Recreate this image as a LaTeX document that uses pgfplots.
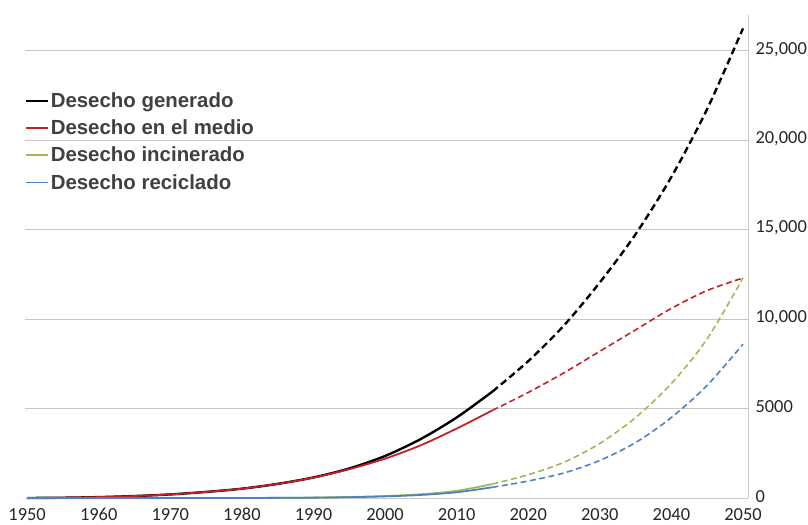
\documentclass[border=0pt]{standalone}
\usepackage{pgfplots}
\pgfplotsset{compat=1.18}
\usepackage{fontspec}
\setmainfont{Carlito}
\newfontfamily\legfont{Liberation Sans}
\definecolor{cRed}{RGB}{196,32,38}
\definecolor{cGreen}{RGB}{155,187,89}
\definecolor{cBlue}{RGB}{79,129,189}
\definecolor{cGrid}{RGB}{200,200,200}
\definecolor{cText}{RGB}{64,64,64}
\begin{document}
\begin{tikzpicture}
\path[use as bounding box] (0,0) rectangle (808bp,525bp);
\begin{axis}[
  at={(25bp,27bp)}, anchor=south west,
  scale only axis, width=723bp, height=483bp,
  xmin=1949.7, xmax=2050.7, ymin=0, ymax=27000,
  axis y line*=right, axis x line*=bottom,
  axis line style={cGrid, line width=1pt},
  x axis line style={-}, y axis line style={-},
  major tick length=0pt,
  scaled y ticks=false, scaled x ticks=false,
  xtick={1950,1960,...,2050},
  xticklabels={1950,1960,1970,1980,1990,2000,2010,2020,2030,2040,2050},
  ytick={0,5000,10000,15000,20000,25000},
  yticklabels={0,5000,{10,000},{15,000},{20,000},{25,000}},
  ymajorgrids, grid style={cGrid, line width=0.9pt},
  tick label style={font=\fontsize{18.5}{20}\selectfont, text=black!85},
  yticklabel style={anchor=west, xshift=4bp, yshift=1.5bp},
  xticklabel style={anchor=north, yshift=-10bp, text height=12.5bp, text depth=0bp, inner sep=0pt},
  legend style={at={(rel axis cs:0,0.842)}, anchor=north west, draw=none, fill=none,
    font=\legfont\bfseries\fontsize{20.5}{24}\selectfont, text=cText,
    inner sep=0pt, row sep=8.5bp, nodes={inner sep=1.2bp}},
  legend cell align=left,
  legend image code/.code={\draw[#1] (0bp,0bp) -- (22bp,0bp);},
  clip=false,
]
% historical (solid)
\addplot[black, line width=2.4pt, smooth] coordinates {
(1950,0)(1955,15)(1960,50)(1965,110)(1970,200)(1975,340)(1980,520)(1985,790)(1990,1150)(1995,1650)(2000,2350)(2005,3300)(2010,4500)(2015,5950)};
\addlegendentry{Desecho generado}
\addplot[cRed, line width=1.8pt, smooth] coordinates {
(1950,0)(1955,15)(1960,50)(1965,110)(1970,200)(1975,340)(1980,520)(1985,790)(1990,1140)(1995,1610)(2000,2200)(2005,2950)(2010,3880)(2015,4900)};
\addlegendentry{Desecho en el medio}
\addplot[cGreen, line width=1.8pt, smooth] coordinates {
(1950,0)(1960,0)(1970,0)(1980,2)(1985,10)(1990,25)(1995,55)(2000,110)(2005,210)(2010,400)(2015,780)};
\addlegendentry{Desecho incinerado}
\addplot[cBlue, line width=1.8pt, smooth] coordinates {
(1950,0)(1960,0)(1970,0)(1980,2)(1985,8)(1990,20)(1995,45)(2000,90)(2005,170)(2010,320)(2015,600)};
\addlegendentry{Desecho reciclado}
% projections (dashed)
\addplot[forget plot, black, line width=2.4pt, smooth, dash pattern=on 7bp off 4bp] coordinates {
(2015,5950)(2020,7650)(2025,9650)(2030,12050)(2035,14750)(2040,17950)(2045,21750)(2050,26250)};
\addplot[forget plot, cRed, line width=1.6pt, smooth, dash pattern=on 6bp off 3.5bp] coordinates {
(2015,4900)(2020,5900)(2025,7000)(2030,8200)(2035,9400)(2040,10600)(2045,11600)(2050,12300)};
\addplot[forget plot, cGreen, line width=1.6pt, smooth, dash pattern=on 6bp off 3.5bp] coordinates {
(2015,780)(2020,1300)(2025,2000)(2030,3050)(2035,4500)(2040,6400)(2045,8900)(2050,12300)};
\addplot[forget plot, cBlue, line width=1.6pt, smooth, dash pattern=on 6bp off 3.5bp] coordinates {
(2015,600)(2020,950)(2025,1400)(2030,2100)(2035,3100)(2040,4500)(2045,6300)(2050,8600)};
\end{axis}
\end{tikzpicture}
\end{document}
